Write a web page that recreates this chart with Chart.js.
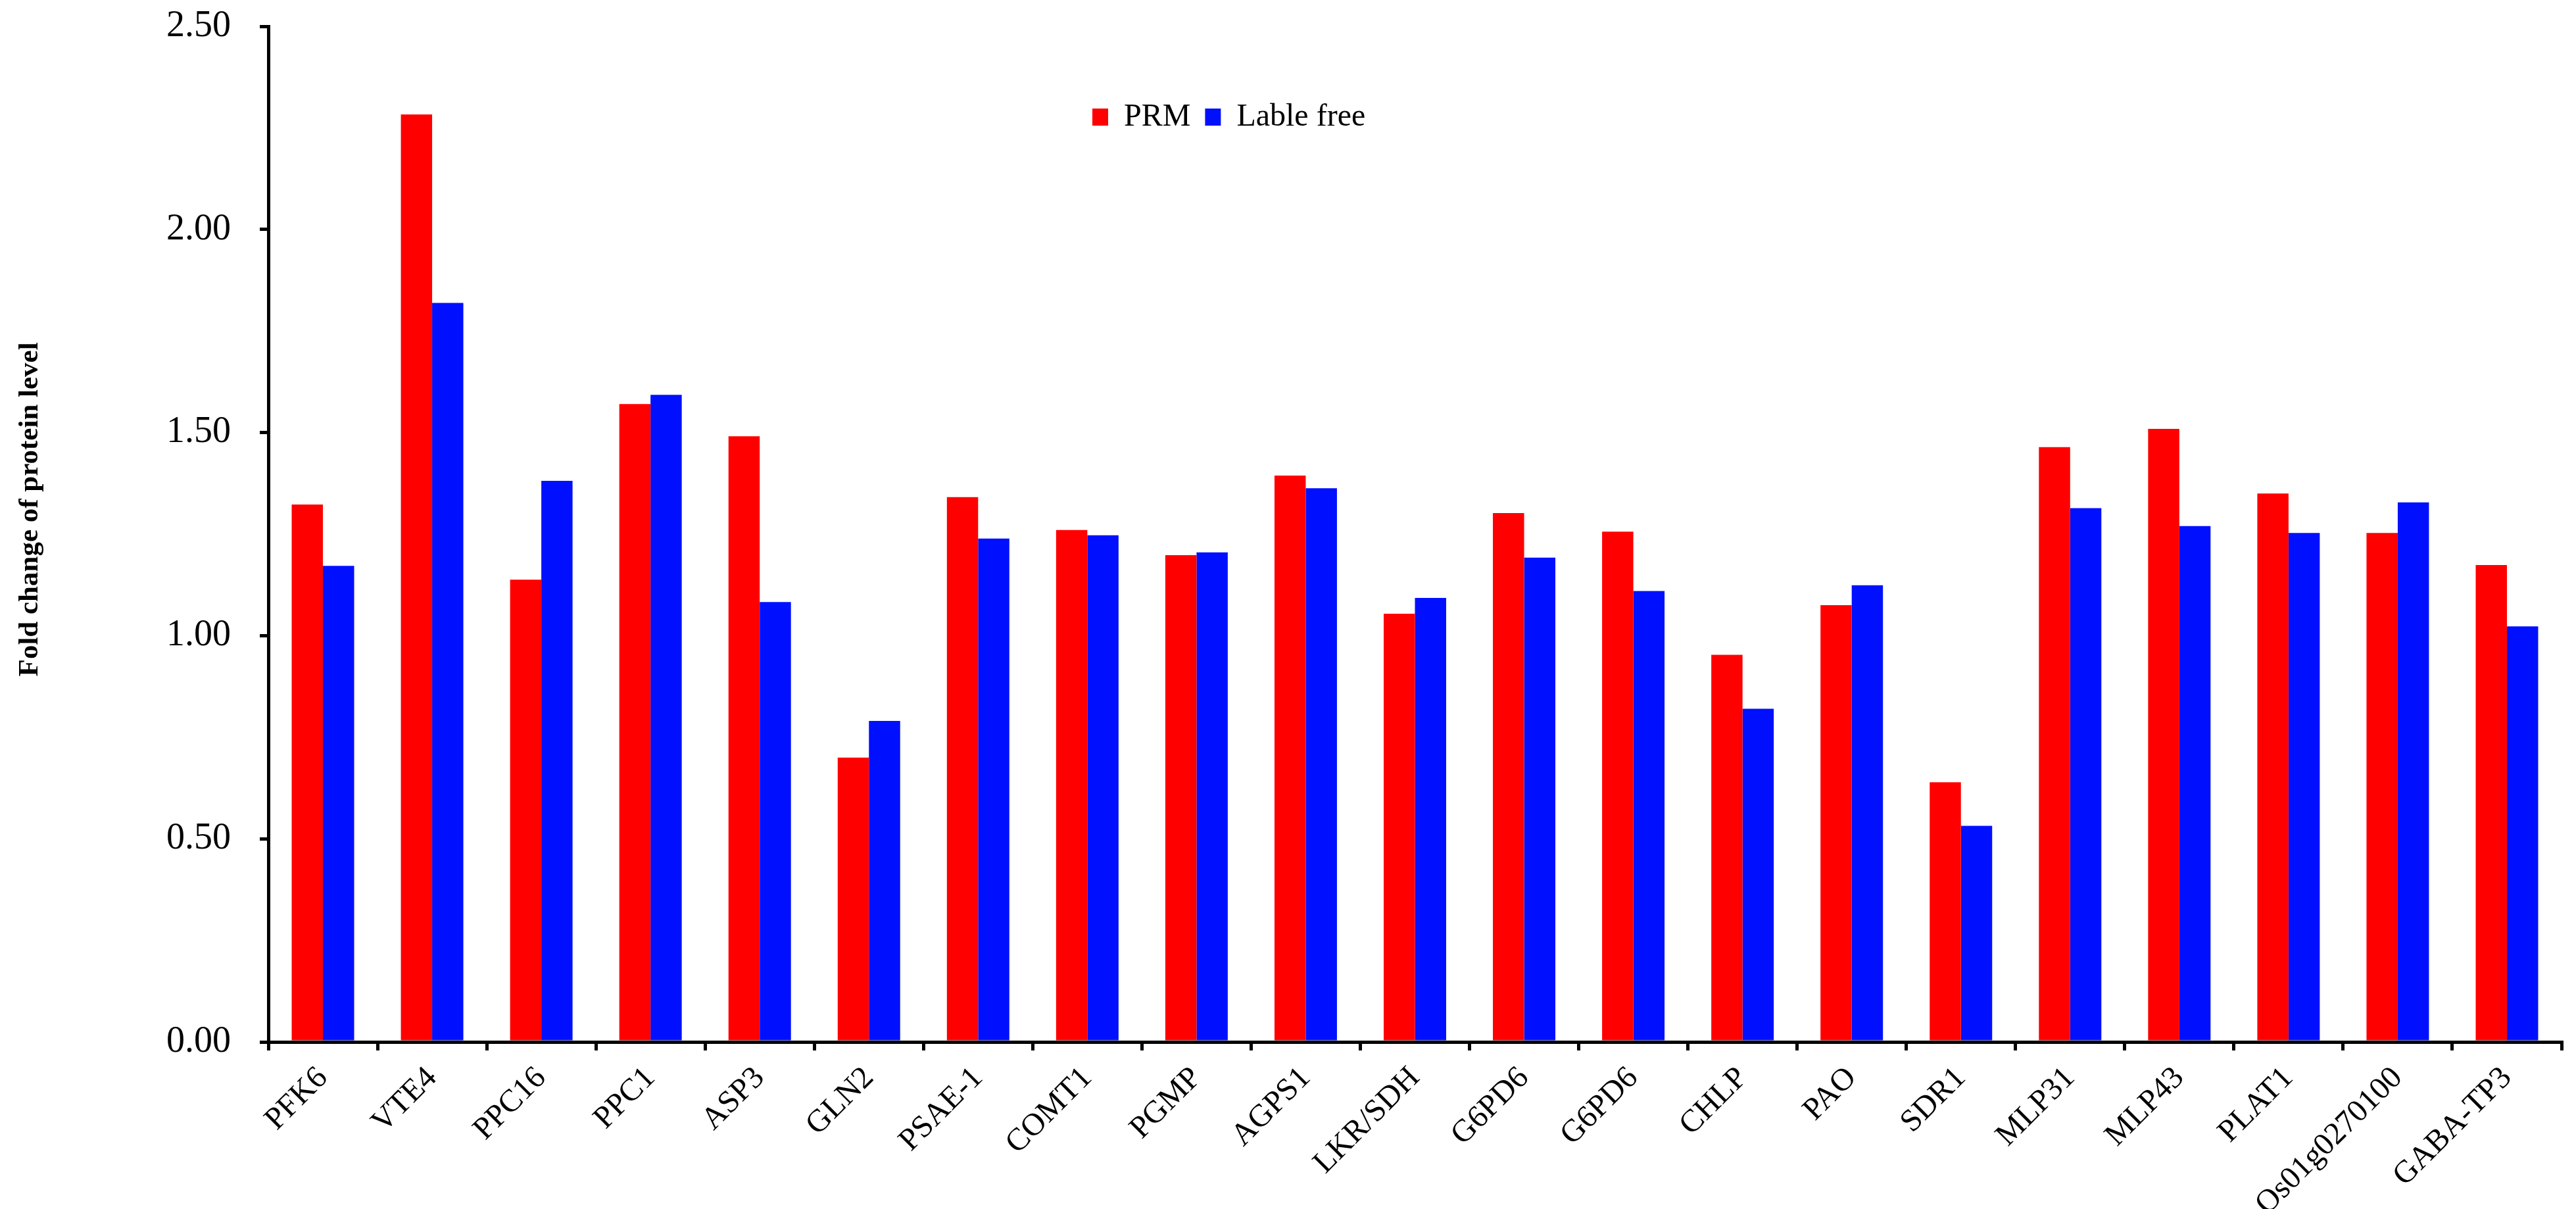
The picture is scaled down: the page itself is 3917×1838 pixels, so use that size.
<!DOCTYPE html>
<html>
<head>
<meta charset="utf-8">
<script src="https://cdn.jsdelivr.net/npm/chart.js@4.4.1/dist/chart.umd.min.js"></script>
<style>
  html, body { margin: 0; padding: 0; background: #ffffff; }
  #wrap { width: 3917px; height: 1838px; }
</style>
</head>
<body>
<div id="wrap"><canvas id="c" width="3917" height="1838"></canvas></div>
<script>
const categories = ["PFK6", "VTE4", "PPC16", "PPC1", "ASP3", "GLN2", "PSAE-1", "COMT1", "PGMP", "AGPS1", "LKR/SDH", "G6PD6", "G6PD6", "CHLP", "PAO", "SDR1", "MLP31", "MLP43", "PLAT1", "Os01g0270100", "GABA-TP3"];
const prmValues = [1.323, 2.283, 1.138, 1.570, 1.491, 0.700, 1.341, 1.260, 1.198, 1.394, 1.054, 1.302, 1.256, 0.953, 1.075, 0.639, 1.464, 1.509, 1.350, 1.253, 1.174];
const labelFreeValues = [1.172, 1.819, 1.381, 1.593, 1.083, 0.790, 1.239, 1.247, 1.205, 1.363, 1.093, 1.192, 1.110, 0.820, 1.124, 0.532, 1.314, 1.270, 1.253, 1.328, 1.023];
const seriesNames = ["PRM", "Lable free"];
const yTickValues = [0, 0.5, 1.0, 1.5, 2.0, 2.5];
const yAxisTitle = "Fold change of protein level";

const FONT = "'Liberation Serif', 'Times New Roman', Times, serif";

const legendPlacer = {
  id: 'legendPlacer',
  afterLayout(chart) {
    const lg = chart.legend;
    if (!lg) return;
    const pad = lg.options.labels.padding;
    lg.left = 1661 - pad;
    lg.right = lg.left + 1200;
    lg.top = 178 - pad - 24;
    lg.bottom = lg.top + 120;
    lg.width = 1200;
    lg.height = 120;
  }
};

new Chart(document.getElementById('c'), {
  type: 'bar',
  data: {
    labels: categories,
    datasets: [
      { label: seriesNames[0], data: prmValues, backgroundColor: '#ff0000', borderWidth: 0 },
      { label: seriesNames[1], data: labelFreeValues, backgroundColor: '#0010ff', borderWidth: 0 }
    ]
  },
  options: {
    responsive: false,
    animation: false,
    devicePixelRatio: 1,
    layout: { padding: { top: 0, right: 22, bottom: 0, left: 0 } },
    datasets: { bar: { categoryPercentage: 0.572, barPercentage: 1.0 } },
    plugins: {
      legend: {
        display: true,
        position: 'top',
        align: 'start',
        maxHeight: 0.01,
        labels: {
          boxWidth: 24,
          boxHeight: 26,
          padding: 22,
          color: '#000',
          font: { family: FONT, size: 48 }
        }
      },
      tooltip: { enabled: false },
      title: { display: false }
    },
    scales: {
      x: {
        grid: {
          display: true,
          drawOnChartArea: false,
          drawTicks: true,
          tickLength: 13,
          color: '#000',
          lineWidth: 5,
          offset: true
        },
        border: { display: true, color: '#000', width: 5 },
        ticks: {
          autoSkip: false,
          minRotation: 45,
          maxRotation: 45,
          padding: 14,
          color: '#000',
          font: { family: FONT, size: 48 }
        },
        afterFit(scale) { scale.height = 254; }
      },
      y: {
        min: 0,
        max: 2.5,
        afterBuildTicks(scale) { scale.ticks = yTickValues.map(v => ({ value: v })); },
        grid: {
          display: true,
          drawOnChartArea: false,
          drawTicks: true,
          tickLength: 13,
          color: '#000',
          lineWidth: 5
        },
        border: { display: true, color: '#000', width: 5 },
        ticks: {
          padding: 44,
          color: '#000',
          font: { family: FONT, size: 56 },
          callback: (v) => Number(v).toFixed(2)
        },
        title: {
          display: true,
          text: "       " + yAxisTitle,
          color: '#000',
          font: { family: FONT, size: 43, weight: 'bold' },
          padding: { top: 20, bottom: 0 }
        },
        afterFit(scale) {
          scale.width = 408;
          scale.paddingTop = 40;
          scale.paddingBottom = 40;
        }
      }
    }
  },
  plugins: [legendPlacer]
});
</script>
</body>
</html>
